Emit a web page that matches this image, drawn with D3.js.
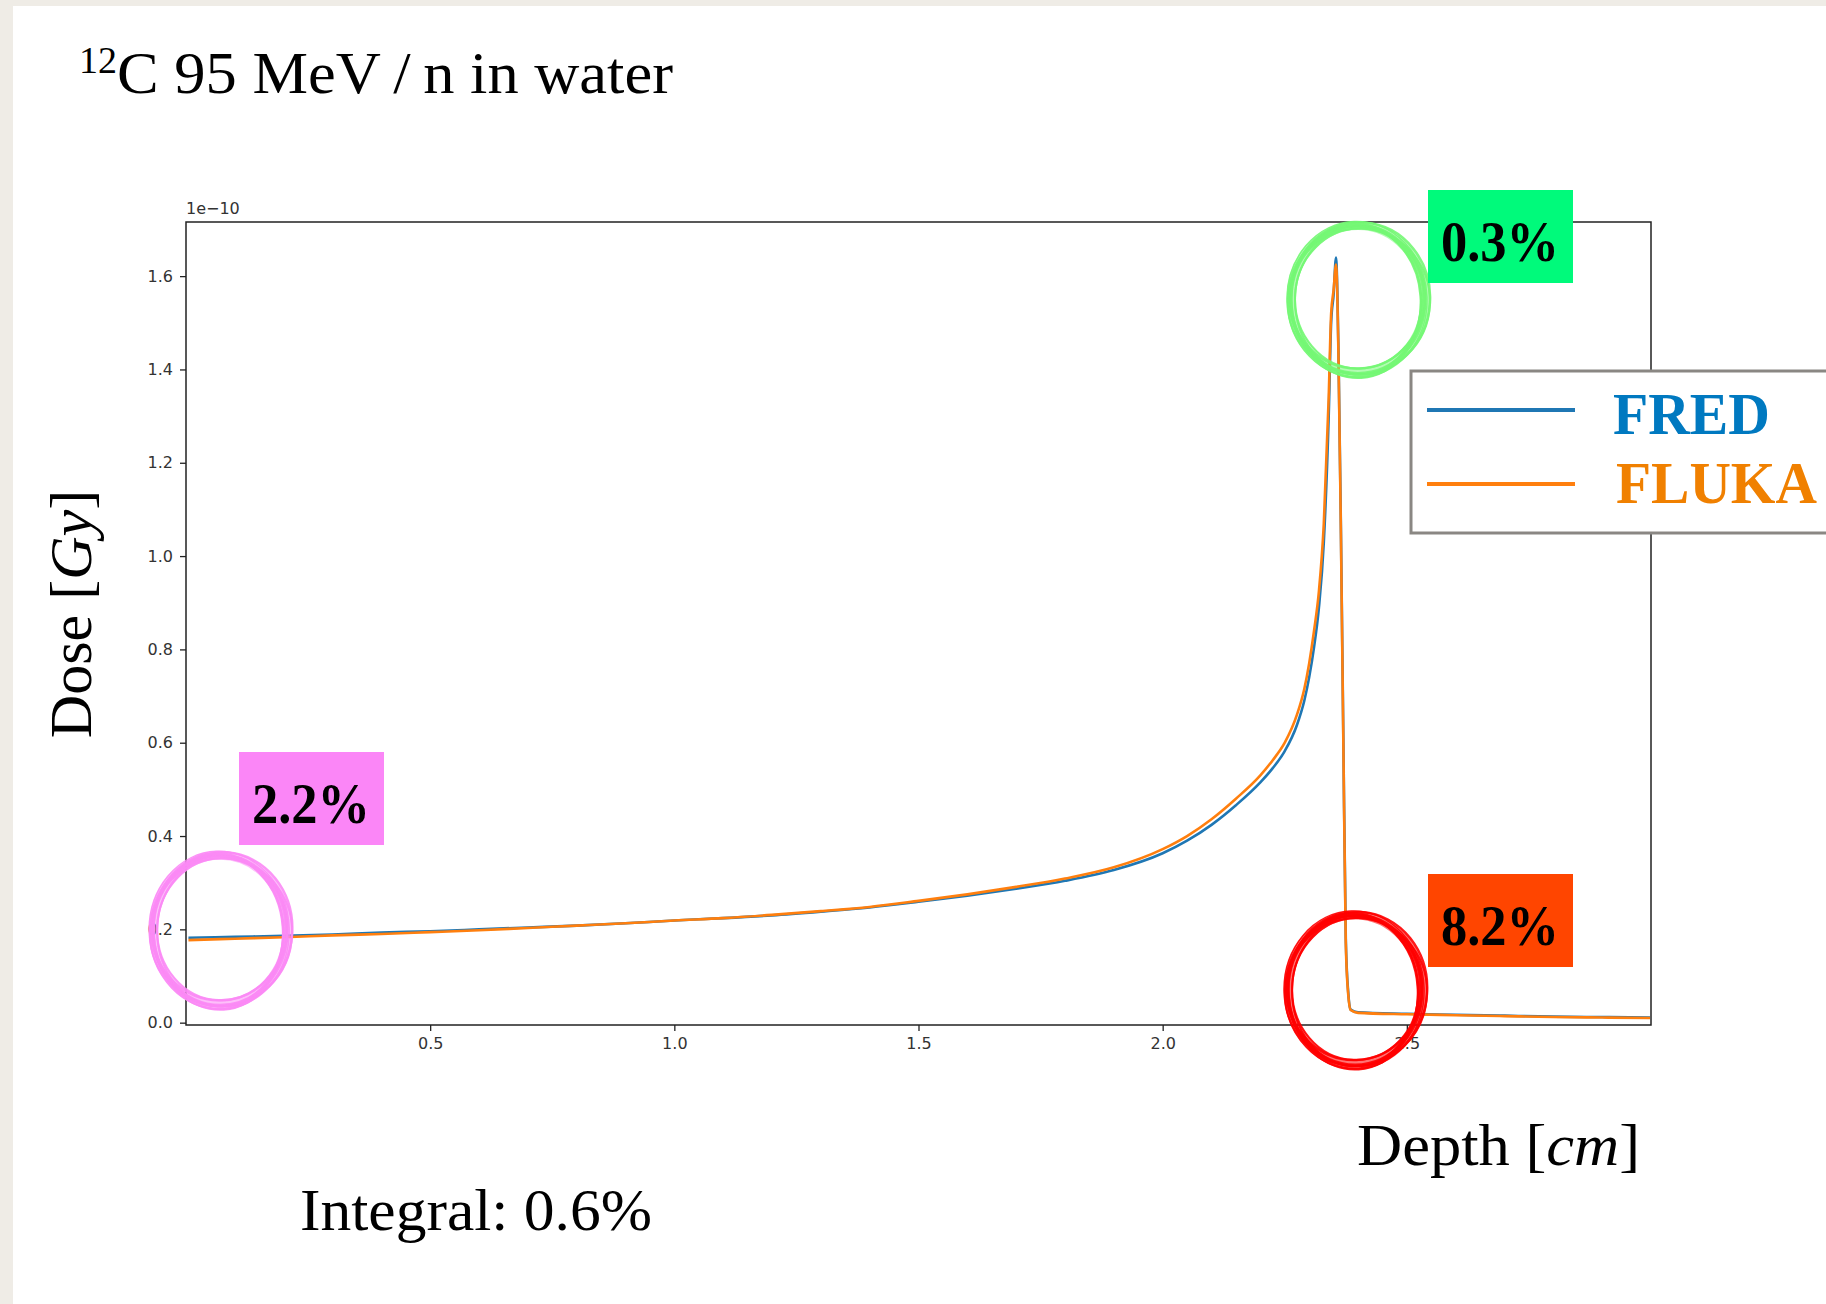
<!DOCTYPE html>
<html>
<head>
<meta charset="utf-8">
<script src="https://cdn.jsdelivr.net/npm/d3@7/dist/d3.min.js"></script>
<style>
  body { margin: 0; background: #fff; }
  svg { display: block; }
</style>
</head>
<body>
<div id="chart"></div>
<script>
// depth in cm, dose in units of 1e-10 Gy
var depth = [0.005, 0.1, 0.2, 0.3, 0.4, 0.5, 0.6, 0.7, 0.8, 0.9, 1.0, 1.1, 1.2, 1.3, 1.4, 1.5, 1.6, 1.7, 1.8, 1.9,
             2.0, 2.05, 2.1, 2.15, 2.2, 2.225, 2.25, 2.275, 2.29, 2.3, 2.31, 2.32, 2.33, 2.34, 2.345, 2.35, 2.355,
             2.36, 2.365, 2.37, 2.375, 2.38, 2.385, 2.4, 2.5, 2.6, 2.7, 2.8, 2.9, 2.998];
var fredDose = [0.182, 0.184, 0.186, 0.189, 0.193, 0.196, 0.200, 0.204, 0.208, 0.213, 0.219, 0.224, 0.230, 0.238, 0.247, 0.259, 0.272, 0.287, 0.304, 0.327,
                0.363, 0.390, 0.424, 0.466, 0.515, 0.545, 0.582, 0.638, 0.690, 0.740, 0.805, 0.890, 1.030, 1.300, 1.500, 1.560, 1.640,
                1.440, 1.060, 0.610, 0.180, 0.065, 0.028, 0.022, 0.019, 0.017, 0.015, 0.013, 0.012, 0.011];
var flukaDose = [0.177, 0.180, 0.183, 0.187, 0.190, 0.194, 0.198, 0.203, 0.208, 0.213, 0.219, 0.224, 0.231, 0.239, 0.248, 0.261, 0.275, 0.291, 0.309, 0.333,
                 0.372, 0.400, 0.436, 0.480, 0.530, 0.562, 0.600, 0.660, 0.715, 0.770, 0.840, 0.925, 1.070, 1.340, 1.520, 1.570, 1.625,
                 1.430, 1.050, 0.600, 0.170, 0.060, 0.027, 0.021, 0.018, 0.016, 0.014, 0.012, 0.011, 0.010];
var seriesNames = ["FRED", "FLUKA"];
var xTicks = [0.5, 1.0, 1.5, 2.0, 2.5];
var yTicks = [0.0, 0.2, 0.4, 0.6, 0.8, 1.0, 1.2, 1.4, 1.6];
var diffLabels = ["0.3%", "8.2%", "2.2%"];

var W = 1826, H = 1304;
var lineColors = ["#1f77b4", "#ff7f0e"];
var textColors = ["#0079c0", "#f08000"];
var serif = "'Liberation Serif', 'DejaVu Serif', serif";
var sans = "'DejaVu Sans', sans-serif";

var svg = d3.select("#chart").append("svg")
  .attr("width", W)
  .attr("height", H);

// slide paper
svg.append("rect").attr("width", W).attr("height", H).attr("fill", "#efece6");
svg.append("rect").attr("x", 13).attr("y", 6).attr("width", W - 13).attr("height", H - 6).attr("fill", "#fff");

var plot = {left: 186, right: 1651, top: 222, bottom: 1025};

var x = d3.scaleLinear().domain([0.0, 3.0]).range([plot.left, plot.right]);
var y = d3.scaleLinear().domain([-0.005, 1.716]).range([plot.bottom, plot.top]);

// axes
var xAxis = svg.append("g")
  .attr("transform", "translate(0," + plot.bottom + ")")
  .call(d3.axisBottom(x).tickValues(xTicks).tickSize(6).tickPadding(7).tickFormat(d3.format(".1f")));
var yAxis = svg.append("g")
  .attr("transform", "translate(" + plot.left + ",0)")
  .call(d3.axisLeft(y).tickValues(yTicks).tickSize(6).tickPadding(7).tickFormat(d3.format(".1f")));
[xAxis, yAxis].forEach(function(g) {
  g.select(".domain").remove();
  g.selectAll(".tick line").attr("stroke", "#222").attr("stroke-width", 1.3);
  g.selectAll(".tick text").attr("fill", "#333").style("font-family", sans).style("font-size", "16px");
});

svg.append("text")
  .attr("x", plot.left)
  .attr("y", plot.top - 8)
  .attr("fill", "#333")
  .style("font-family", sans)
  .style("font-size", "16px")
  .text("1e\u221210");

// curves
var line = d3.line()
  .x(function(d) { return x(d[0]); })
  .y(function(d) { return y(d[1]); })
  .curve(d3.curveMonotoneX);
[fredDose, flukaDose].forEach(function(vals, i) {
  svg.append("path")
    .datum(depth.map(function(dx, k) { return [dx, vals[k]]; }))
    .attr("d", line)
    .attr("fill", "none")
    .attr("stroke", lineColors[i])
    .attr("stroke-width", 2.6)
    .attr("stroke-linejoin", "round");
});

// frame
svg.append("rect")
  .attr("x", plot.left).attr("y", plot.top)
  .attr("width", plot.right - plot.left).attr("height", plot.bottom - plot.top)
  .attr("fill", "none").attr("stroke", "#222").attr("stroke-width", 1.5);

// legend
var leg = svg.append("g");
leg.append("rect")
  .attr("x", 1411).attr("y", 371).attr("width", 440).attr("height", 162)
  .attr("fill", "#fff").attr("stroke", "#8a8783").attr("stroke-width", 3);
seriesNames.forEach(function(name, i) {
  var ly = 410 + i * 74;
  leg.append("line")
    .attr("x1", 1427).attr("x2", 1575).attr("y1", ly).attr("y2", ly)
    .attr("stroke", lineColors[i]).attr("stroke-width", 4);
  leg.append("text")
    .attr("x", 1613 + i * 3).attr("y", ly + 24 + i * -5)
    .attr("fill", textColors[i])
    .style("font-family", serif).style("font-weight", "bold").style("font-size", "60px")
    .attr("textLength", i === 0 ? 157 : 201).attr("lengthAdjust", "spacingAndGlyphs")
    .text(name);
});

// hand drawn circles
function roughCircle(cx, cy, rx, ry, color) {
  var g = svg.append("g").attr("fill", "none").attr("stroke", color).attr("stroke-linecap", "round");
  g.append("ellipse")
    .attr("cx", cx).attr("cy", cy).attr("rx", rx).attr("ry", ry)
    .attr("stroke-width", 9).attr("opacity", 0.55);
  var strokes = [[0, 0, 0, 0, 3], [2, -1, 3, 2, 2.5], [-2, 1, -2, 3, 3], [1, 2, 4, -1, 2],
                 [-1, -2, 1, -3, 2.5], [0, 1, -4, 0, 2], [1, -1, -3, -4, 2], [-1, 0, 3, 4, 1.5]];
  strokes.forEach(function(s) {
    g.append("ellipse")
      .attr("cx", cx + s[0]).attr("cy", cy + s[1])
      .attr("rx", rx + s[2]).attr("ry", ry + s[3])
      .attr("stroke-width", s[4])
      .attr("opacity", 0.9)
      .attr("transform", "rotate(" + (s[0] * 2) + "," + cx + "," + cy + ")");
  });
}
roughCircle(x(2.4), y(1.55), 67, 74, "#74f774");
roughCircle(x(2.394), y(0.07), 67, 75, "#ff0000");
roughCircle(x(0.07), y(0.198), 67, 75, "#fb8af5");

// difference labels
var boxes = [
  {x: 1428, y: 190, fill: "#00fa7b"},
  {x: 1428, y: 874, fill: "#ff4500"},
  {x: 239, y: 752, fill: "#fb86f7"}
];
boxes.forEach(function(b, i) {
  svg.append("rect").attr("x", b.x).attr("y", b.y).attr("width", 145).attr("height", 93).attr("fill", b.fill);
  svg.append("text")
    .attr("x", b.x + 72).attr("y", b.y + 71)
    .attr("text-anchor", "middle")
    .attr("fill", "#000")
    .style("font-family", serif).style("font-weight", "bold").style("font-size", "56px")
    .attr("textLength", 118).attr("lengthAdjust", "spacingAndGlyphs")
    .text(diffLabels[i]);
});

// titles and axis labels
var title = svg.append("text")
  .attr("x", 79).attr("y", 93)
  .attr("fill", "#000")
  .style("font-family", serif).style("font-size", "60px");
title.append("tspan").attr("font-size", "38px").attr("dy", "-20").text("12");
title.append("tspan").attr("dy", "20")
  .attr("textLength", 556).attr("lengthAdjust", "spacingAndGlyphs")
  .text("C 95 MeV\u2009/\u2009n in water");

svg.append("text")
  .attr("transform", "translate(91,614) rotate(-90)")
  .attr("text-anchor", "middle")
  .attr("fill", "#000")
  .style("font-family", serif).style("font-size", "60px")
  .html("Dose [<tspan font-style='italic'>Gy</tspan>]");

svg.append("text")
  .attr("x", 1357).attr("y", 1165)
  .attr("fill", "#000")
  .style("font-family", serif).style("font-size", "60px")
  .attr("textLength", 283).attr("lengthAdjust", "spacingAndGlyphs")
  .html("Depth [<tspan font-style='italic'>cm</tspan>]");

svg.append("text")
  .attr("x", 300).attr("y", 1230)
  .attr("fill", "#000")
  .style("font-family", serif).style("font-size", "60px")
  .attr("textLength", 352).attr("lengthAdjust", "spacingAndGlyphs")
  .text("Integral: 0.6%");
</script>
</body>
</html>
